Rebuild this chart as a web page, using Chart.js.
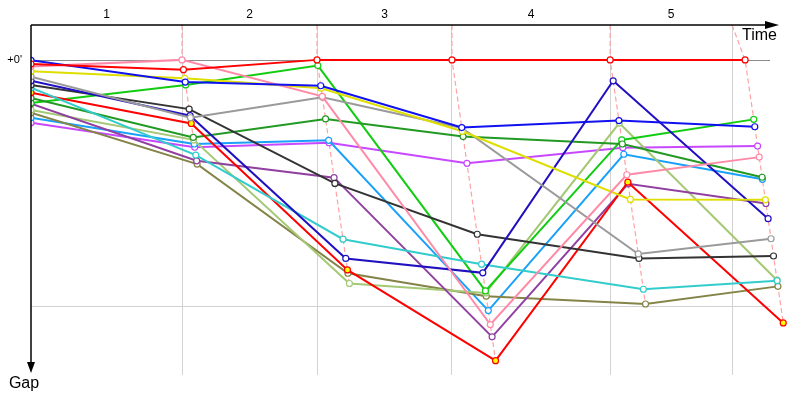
<!DOCTYPE html>
<html>
<head>
<meta charset="utf-8">
<script src="https://cdn.jsdelivr.net/npm/chart.js@4"></script>
<style>body{margin:0;background:#fff}</style>
</head>
<body>
<canvas id="gapChart" width="800" height="400"></canvas>
<script>
// Lap timing (seconds from start) and per-lap gaps to the leader (seconds)
const lapLabels = ['1', '2', '3', '4', '5'];
const lapMarks = [254, 481, 708, 974, 1179];
const leaderTimes = [0, 254, 481, 708, 974, 1201];
const gapGrid = [0, 60];

// gap at start, lap 1 ... lap 5
const gapRed       = [1.0, 2.4, 0, 0, 0, 0];
const gapBlue      = [0.1, 5.4, 6.3, 16.5, 14.8, 16.3];
const gapPink      = [1.6, 0, 8.9, 64.5, 28.0, 23.7];
const gapYellow    = [2.8, 4.5, 6.9, 17.4, 34.0, 34.1];
const gapGray      = [4.1, 14.1, 9.1, 16.6, 47.3, 43.6];
const gapNavy      = [5.1, 13.6, 48.4, 51.9, 5.1, 38.7];
const gapBlack     = [6.1, 12.0, 30.1, 42.5, 48.4, 47.8];
const gapCyan      = [6.8, 23.2, 43.7, 49.8, 55.9, 53.8];
const gapRed2      = [8.0, 15.5, 51.2, 73.3, 29.8, 64.1];
const gapDarkGreen = [9.3, 18.9, 14.4, 18.7, 20.5, 28.6];
const gapGreen     = [10.5, 6.1, 1.4, 56.3, 19.5, 14.5];
const gapPurple    = [10.7, 24.6, 28.7, 67.5, 30.2, 35.0];
const gapLime      = [12.2, 19.5, 54.5, 56.8, 15.4, 53.7];
const gapOlive     = [12.9, 25.4, 52.0, 57.6, 59.5, 55.2];
const gapSky       = [14.1, 20.5, 19.6, 61.1, 23.0, 29.1];
const gapViolet    = [15.3, 21.3, 20.2, 25.2, 21.4, 21.0];

const drivers = [
    { gaps: gapRed,       color: '#ff0000', fill: '#ffffff' },
    { gaps: gapBlue,      color: '#1010f0', fill: '#ffffff' },
    { gaps: gapPink,      color: '#ff8aa8', fill: '#ffffff' },
    { gaps: gapYellow,    color: '#dede00', fill: '#ffffff' },
    { gaps: gapGray,      color: '#9a9a9a', fill: '#ffffff' },
    { gaps: gapNavy,      color: '#2010c0', fill: '#ffffff' },
    { gaps: gapBlack,     color: '#333333', fill: '#ffffff' },
    { gaps: gapCyan,      color: '#33cccc', fill: '#ffffff' },
    { gaps: gapRed2,      color: '#ff0000', fill: '#ffff00' },
    { gaps: gapDarkGreen, color: '#229922', fill: '#ffffff' },
    { gaps: gapGreen,     color: '#11cc11', fill: '#ffffff' },
    { gaps: gapPurple,    color: '#9040a0', fill: '#ffffff' },
    { gaps: gapLime,      color: '#a4c874', fill: '#ffffff' },
    { gaps: gapOlive,     color: '#848448', fill: '#ffffff' },
    { gaps: gapSky,       color: '#18a0fa', fill: '#ffffff' },
    { gaps: gapViolet,    color: '#c848ff', fill: '#ffffff' }
];

const GAP_MIN = -8.5;
const GAP_MAX = 76.8;
const TIME_MAX = 1258;
const FONT = '"Liberation Sans", Arial, sans-serif';

// point of a driver at lap k: x = leader's time + own gap
function driverPoints(gaps) {
    return gaps.map((g, k) => ({ x: k === 0 ? 0 : leaderTimes[k] + g, y: g }));
}

const lineSets = drivers.map(d => ({
    data: driverPoints(d.gaps),
    borderColor: d.color,
    backgroundColor: d.fill,
    pointBackgroundColor: d.fill,
    pointBorderColor: d.color,
    borderWidth: 2,
    pointRadius: 3,
    pointBorderWidth: 1.2,
    tension: 0,
    clip: { left: 0, top: 5, right: 10, bottom: 5 },
    order: 1
}));

// dashed line joining every car's crossing of the same lap
const lapSets = lapMarks.map((mark, i) => {
    const k = i + 1;
    const maxGap = Math.max(...drivers.map(d => d.gaps[k]));
    return {
        data: [
            { x: mark, y: GAP_MIN },
            { x: leaderTimes[k], y: 0 },
            { x: leaderTimes[k] + maxGap, y: maxGap }
        ],
        borderColor: '#ffa2a2',
        borderWidth: 1.2,
        borderDash: [5, 3],
        pointRadius: 0,
        tension: 0,
        clip: false,
        order: 10
    };
});

// tick list on the time axis: lap ends (grid) and lap centres (labels)
const xTicks = [];
let prev = 0;
lapMarks.forEach((mark, i) => {
    xTicks.push({ value: (prev + mark) / 2, label: lapLabels[i], grid: false });
    xTicks.push({ value: mark, label: '', grid: true });
    prev = mark;
});

// horizontal gap lines stop a little short of the time arrow
const gapLines = {
    id: 'gapLines',
    beforeDatasetsDraw(chart) {
        const { ctx, chartArea: a, scales } = chart;
        ctx.save();
        ctx.lineWidth = 1;
        gapGrid.forEach(g => {
            const y = Math.round(scales.y.getPixelForValue(g)) + 0.5;
            ctx.strokeStyle = g === 0 ? '#8c8c8c' : '#d2d2d2';
            ctx.beginPath();
            ctx.moveTo(a.left, y);
            ctx.lineTo(a.right - 9, y);
            ctx.stroke();
        });
        ctx.restore();
    }
};

const axisArrows = {
    id: 'axisArrows',
    afterDraw(chart) {
        const { ctx, chartArea: a } = chart;
        ctx.save();
        ctx.strokeStyle = '#000';
        ctx.fillStyle = '#000';
        ctx.lineWidth = 1.5;

        // time axis along the top
        ctx.beginPath();
        ctx.moveTo(a.left, a.top);
        ctx.lineTo(a.right - 10, a.top);
        ctx.stroke();
        ctx.beginPath();
        ctx.moveTo(a.right, a.top);
        ctx.lineTo(a.right - 14, a.top - 4);
        ctx.lineTo(a.right - 14, a.top + 4);
        ctx.closePath();
        ctx.fill();

        // gap axis down the left
        ctx.beginPath();
        ctx.moveTo(a.left, a.top);
        ctx.lineTo(a.left, a.bottom - 8);
        ctx.stroke();
        ctx.beginPath();
        ctx.moveTo(a.left, a.bottom - 2);
        ctx.lineTo(a.left - 4, a.bottom - 13);
        ctx.lineTo(a.left + 4, a.bottom - 13);
        ctx.closePath();
        ctx.fill();

        ctx.font = '16px ' + FONT;
        ctx.textBaseline = 'alphabetic';
        ctx.textAlign = 'right';
        ctx.fillText('Time', a.right - 2, a.top + 15);
        ctx.textAlign = 'center';
        ctx.fillText('Gap', a.left - 7, a.bottom + 13);
        ctx.restore();
    }
};

new Chart(document.getElementById('gapChart'), {
    type: 'line',
    data: { datasets: [...lineSets, ...lapSets] },
    options: {
        responsive: false,
        animation: false,
        events: [],
        layout: { padding: { top: 0, left: 0, right: 21, bottom: 25 } },
        plugins: {
            legend: { display: false },
            tooltip: { enabled: false }
        },
        scales: {
            x: {
                type: 'linear',
                position: 'top',
                min: 0,
                max: TIME_MAX,
                afterBuildTicks: (s) => { s.ticks = xTicks.map(t => ({ value: t.value })); },
                afterFit: (s) => { s.height = 25; },
                border: { display: false },
                grid: {
                    drawTicks: false,
                    color: (c) => (c.tick && xTicks.some(t => t.grid && t.value === c.tick.value)) ? '#d2d2d2' : 'rgba(0,0,0,0)'
                },
                ticks: {
                    autoSkip: false,
                    maxRotation: 0,
                    padding: 3,
                    color: '#000',
                    font: { size: 12, family: FONT },
                    callback: (v, i) => xTicks[i] ? xTicks[i].label : ''
                }
            },
            y: {
                type: 'linear',
                reverse: true,
                min: GAP_MIN,
                max: GAP_MAX,
                afterBuildTicks: (s) => { s.ticks = gapGrid.map(v => ({ value: v })); },
                afterFit: (s) => { s.width = 31; },
                border: { display: false },
                grid: { display: false, drawTicks: false },
                ticks: {
                    padding: 9,
                    color: '#000',
                    font: { size: 11, family: FONT },
                    callback: (v) => v === 0 ? "+0'" : ''
                }
            }
        }
    },
    plugins: [gapLines, axisArrows]
});
</script>
</body>
</html>
